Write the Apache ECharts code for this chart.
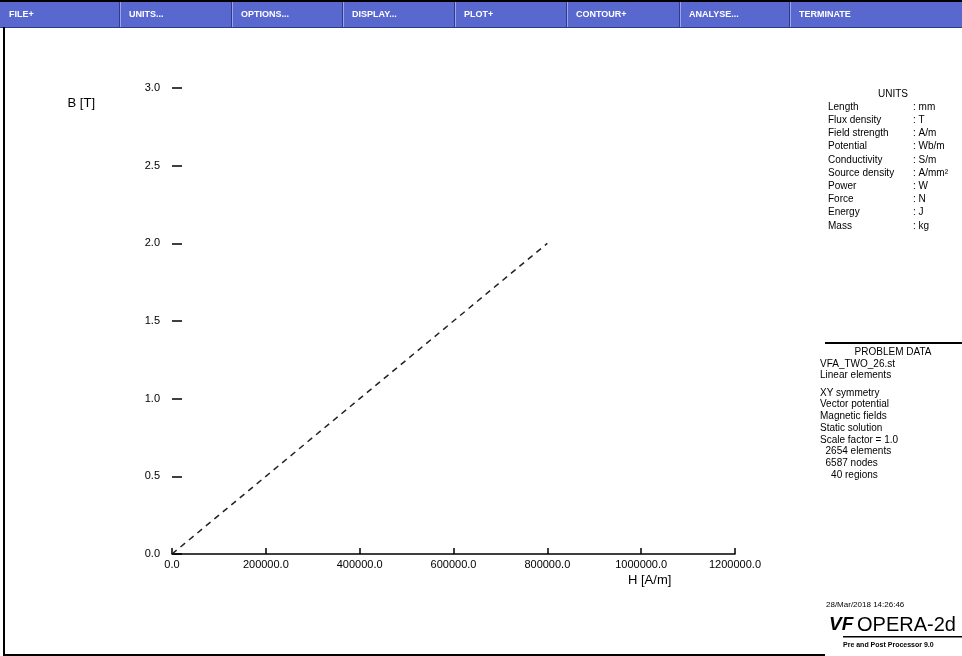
<!DOCTYPE html>
<html>
<head>
<meta charset="utf-8">
<title>B-H curve</title>
<script src="https://cdn.jsdelivr.net/npm/echarts@6/dist/echarts.min.js"></script>
<style>
  html, body { margin: 0; padding: 0; background: #ffffff; }
  #chart { width: 962px; height: 656px; }
</style>
</head>
<body>
<div id="chart"></div>
<script>
// B-H characteristic (dashed), field strength in A/m, flux density in tesla
const hValues = [0, 800000];
const bValues = [0, 2.0];

// Axis ranges and steps
const hMin = 0, hMax = 1200000, hStep = 200000;
const bMin = 0, bMax = 3.0, bStep = 0.5;

// Top menu bar entries
const menuItems = ['FILE+', 'UNITS...', 'OPTIONS...', 'DISPLAY...', 'PLOT+', 'CONTOUR+', 'ANALYSE...', 'TERMINATE'];

// Units table
const unitNames = ['Length', 'Flux density', 'Field strength', 'Potential', 'Conductivity', 'Source density', 'Power', 'Force', 'Energy', 'Mass'];
const unitValues = ['mm', 'T', 'A/m', 'Wb/m', 'S/m', 'A/mm²', 'W', 'N', 'J', 'kg'];

// Problem data block: file header lines, then model description
const problemHead = ['VFA_TWO_26.st', 'Linear elements'];
const problemBody = ['XY symmetry', 'Vector potential', 'Magnetic fields', 'Static solution', 'Scale factor = 1.0', '  2654 elements', '  6587 nodes', '    40 regions'];

const chart = echarts.init(document.getElementById('chart'), null, { renderer: 'canvas' });

const FONT = 'Liberation Sans';
const graphics = [];

// menu bar
const barH = 27;
graphics.push({ type: 'rect', shape: { x: 0, y: 0, width: 962, height: barH }, style: { fill: '#5868cf' }, silent: true });
graphics.push({ type: 'rect', shape: { x: 0, y: 0, width: 962, height: 2 }, style: { fill: '#000' }, silent: true });
const cellEdges = [0, 120, 232, 343, 455, 567, 680, 790, 962];
menuItems.forEach((t, i) => {
  const x0 = cellEdges[i];
  if (i > 0) {
    graphics.push({ type: 'rect', shape: { x: x0 - 1, y: 2, width: 1, height: barH - 2 }, style: { fill: '#2e3a8c' }, silent: true });
    graphics.push({ type: 'rect', shape: { x: x0, y: 2, width: 1, height: barH - 2 }, style: { fill: '#9aa6ea' }, silent: true });
  }
  graphics.push({ type: 'text', x: x0 + 9, y: 15, style: { text: t, fill: '#ffffff', font: 'bold 9px ' + FONT, textVerticalAlign: 'middle' }, silent: true });
});
graphics.push({ type: 'rect', shape: { x: 0, y: barH, width: 962, height: 1 }, style: { fill: '#2e3a8c' }, silent: true });

// frame lines
graphics.push({ type: 'rect', shape: { x: 3, y: barH, width: 2, height: 656 - barH }, style: { fill: '#000' }, silent: true });
graphics.push({ type: 'rect', shape: { x: 3, y: 654, width: 822, height: 2 }, style: { fill: '#000' }, silent: true });

// units panel
graphics.push({ type: 'text', x: 893, y: 94, style: { text: 'UNITS', fill: '#000', font: '10px ' + FONT, textAlign: 'center', textVerticalAlign: 'middle' }, silent: true });
unitNames.forEach((n, i) => {
  const y = 107 + i * 13.2;
  graphics.push({ type: 'text', x: 828, y: y, style: { text: n, fill: '#000', font: '10px ' + FONT, textVerticalAlign: 'middle' }, silent: true });
  graphics.push({ type: 'text', x: 913, y: y, style: { text: ': ' + unitValues[i], fill: '#000', font: '10px ' + FONT, textVerticalAlign: 'middle' }, silent: true });
});

// problem data panel
graphics.push({ type: 'rect', shape: { x: 825, y: 342, width: 137, height: 2 }, style: { fill: '#000' }, silent: true });
graphics.push({ type: 'text', x: 893, y: 352, style: { text: 'PROBLEM DATA', fill: '#000', font: '10px ' + FONT, textAlign: 'center', textVerticalAlign: 'middle' }, silent: true });
problemHead.forEach((t, i) => {
  graphics.push({ type: 'text', x: 820, y: 364 + i * 11.7, style: { text: t, fill: '#000', font: '10px ' + FONT, textVerticalAlign: 'middle' }, silent: true });
});
problemBody.forEach((t, i) => {
  graphics.push({ type: 'text', x: 820, y: 393 + i * 11.7, style: { text: t, fill: '#000', font: '10px ' + FONT, textVerticalAlign: 'middle' }, silent: true });
});

// footer with product logo
graphics.push({ type: 'text', x: 826, y: 605, style: { text: '28/Mar/2018 14:26:46', fill: '#000', font: '8px ' + FONT, textVerticalAlign: 'middle' }, silent: true });
graphics.push({ type: 'text', x: 829, y: 625, style: { text: 'VF', fill: '#000', font: 'bold italic 19px ' + FONT, textVerticalAlign: 'middle' }, silent: true });
graphics.push({ type: 'text', x: 857, y: 625, style: { text: 'OPERA-2d', fill: '#000', font: '20px ' + FONT, textVerticalAlign: 'middle' }, silent: true });
graphics.push({ type: 'rect', shape: { x: 843, y: 636, width: 119, height: 1.5 }, style: { fill: '#000' }, silent: true });
graphics.push({ type: 'text', x: 843, y: 645, style: { text: 'Pre and Post Processor 9.0', fill: '#000', font: 'bold 7px ' + FONT, textVerticalAlign: 'middle' }, silent: true });

const option = {
  backgroundColor: '#ffffff',
  animation: false,
  textStyle: { fontFamily: FONT },
  grid: { left: 172, right: 227, top: 88, bottom: 102, containLabel: false },
  xAxis: {
    type: 'value',
    min: hMin, max: hMax, interval: hStep,
    name: 'H [A/m]',
    nameLocation: 'end',
    nameGap: -107,
    nameTextStyle: { color: '#000', fontSize: 13, align: 'left', verticalAlign: 'top', padding: [20, 0, 0, 0] },
    axisLine: { show: true, onZero: false, lineStyle: { color: '#000', width: 1.5 } },
    axisTick: { show: true, inside: true, length: 6, lineStyle: { color: '#000', width: 1.5 } },
    axisLabel: { color: '#000', fontSize: 11, margin: 5, formatter: v => v.toFixed(1) },
    splitLine: { show: false }
  },
  yAxis: {
    type: 'value',
    min: bMin, max: bMax, interval: bStep,
    name: 'B [T]',
    nameLocation: 'end',
    nameGap: -15,
    nameTextStyle: { color: '#000', fontSize: 13, align: 'right', verticalAlign: 'middle', padding: [0, 77, 0, 0] },
    axisLine: { show: false },
    axisTick: { show: true, inside: true, length: 10, lineStyle: { color: '#000', width: 1.5 } },
    axisLabel: { color: '#000', fontSize: 11, margin: 12, formatter: v => v.toFixed(1) },
    splitLine: { show: false }
  },
  series: [{
    type: 'line',
    data: hValues.map((h, i) => [h, bValues[i]]),
    showSymbol: false,
    symbol: 'none',
    lineStyle: { color: '#222', width: 1.5, type: [6, 5] },
    silent: true
  }],
  graphic: graphics
};

chart.setOption(option);
</script>
</body>
</html>
